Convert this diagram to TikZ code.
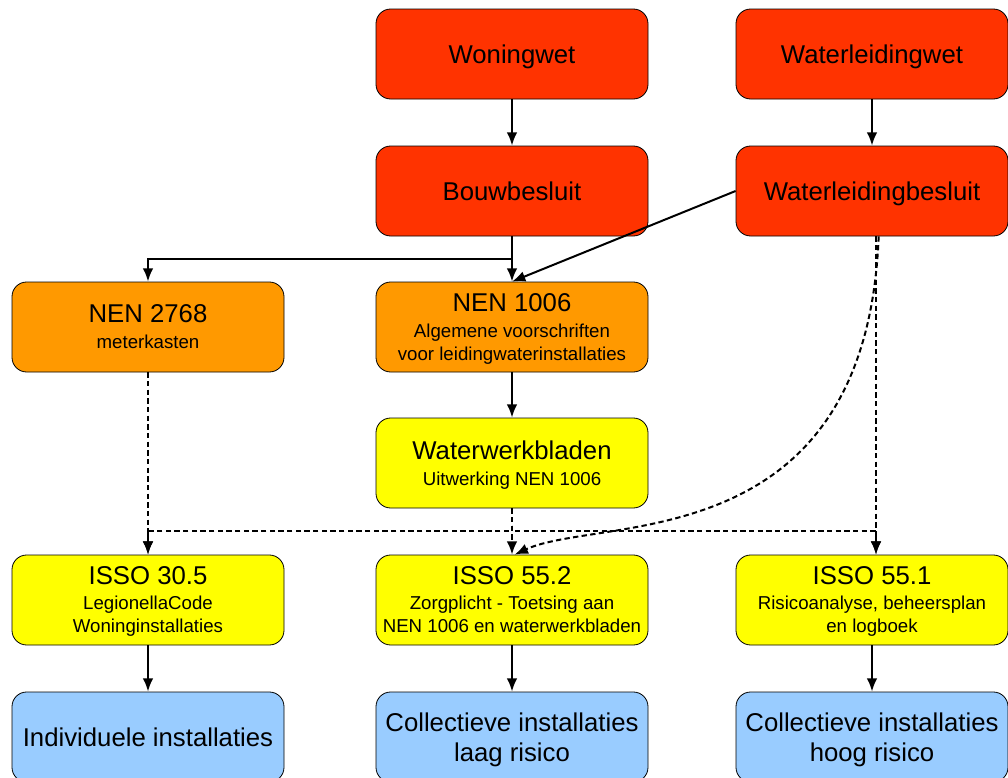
\documentclass[tikz,border=0pt]{standalone}
\usepackage{fontspec}
\setmainfont{Liberation Sans}
\usetikzlibrary{arrows.meta}
\definecolor{wetred}{HTML}{FF3300}
\definecolor{normorange}{HTML}{FF9900}
\definecolor{issoyellow}{HTML}{FFFF00}
\definecolor{instblue}{HTML}{99CCFF}
\newcommand{\boxtitle}[1]{{\fontsize{19.3}{23}\selectfont #1}}
\begin{document}
\begin{tikzpicture}[x=0.75pt,y=-0.75pt,
  blok/.style={draw=black,line width=0.6pt,rounded corners=11pt,minimum width=204pt,minimum height=67.5pt,
    align=center,inner sep=2pt,text depth=0pt,font=\fontsize{14}{17.5}\selectfont},
  wet/.style={blok,fill=wetred},
  norm/.style={blok,fill=normorange},
  isso/.style={blok,fill=issoyellow},
  inst/.style={blok,fill=instblue,font=\fontsize{19.3}{22.5}\selectfont},
  arr/.style={line width=1.5pt,-{Latex[length=10pt,width=8pt]}},
  stip/.style={arr,dash pattern=on 4pt off 2.5pt}]
\useasboundingbox (0,0) rectangle (1008,778);

\node[wet] (woningwet) at (512,54) {\boxtitle{Woningwet}};
\node[wet] (wlwet) at (872,54) {\boxtitle{Waterleidingwet}};
\node[wet] (bouwbesluit) at (512,191) {\boxtitle{Bouwbesluit}};
\node[wet] (wlbesluit) at (872,191) {\boxtitle{Waterleidingbesluit}};
\node[norm] (nen2768) at (148,327) {\boxtitle{NEN 2768}\\[2pt] meterkasten};
\node[norm] (nen1006) at (512,327) {\boxtitle{NEN 1006}\\[2pt] Algemene voorschriften\\ voor leidingwaterinstallaties};
\node[isso] (wwb) at (512,463) {\boxtitle{Waterwerkbladen}\\[2pt] Uitwerking NEN 1006};
\node[isso] (isso305) at (148,600) {\boxtitle{ISSO 30.5}\\[1pt] LegionellaCode\\ Woninginstallaties};
\node[isso] (isso552) at (512,600) {\boxtitle{ISSO 55.2}\\[1pt] Zorgplicht - Toetsing aan\\ NEN 1006 en waterwerkbladen};
\node[isso] (isso551) at (872,600) {\boxtitle{ISSO 55.1}\\[1pt] Risicoanalyse, beheersplan\\ en logboek};
\node[inst] (indiv) at (148,737) {Individuele installaties};
\node[inst] (colllaag) at (512,737) {Collectieve installaties\\ laag risico};
\node[inst] (collhoog) at (872,737) {Collectieve installaties\\ hoog risico};

\draw[arr] (woningwet) -- (bouwbesluit);
\draw[arr] (wlwet) -- (wlbesluit);
\draw[arr] (bouwbesluit) -- (nen1006);
\draw[arr] (bouwbesluit.south) -- ++(0,23) -| (nen2768.north);
\draw[arr] (wlbesluit.west) -- (nen1006.north);
\draw[arr] (nen1006) -- (wwb);
\draw[arr] (isso305) -- (indiv);
\draw[arr] (isso552) -- (colllaag);
\draw[arr] (isso551) -- (collhoog);

\draw[stip] (nen2768) -- (isso305);
\draw[stip] (wwb) -- (isso552);
\draw[stip] ([xshift=3pt]wlbesluit.south) -- ([xshift=3pt]isso551.north);
\draw[stip] (wwb.south) -- ++(0,23) -| (isso305.north);
\draw[stip] (wwb.south) -- ++(0,23) -| ([xshift=3pt]isso551.north);
\draw[stip] ([xshift=5pt]wlbesluit.south) .. controls (866,560) and (600,515) .. ([xshift=2pt]isso552.north);
\end{tikzpicture}
\end{document}
